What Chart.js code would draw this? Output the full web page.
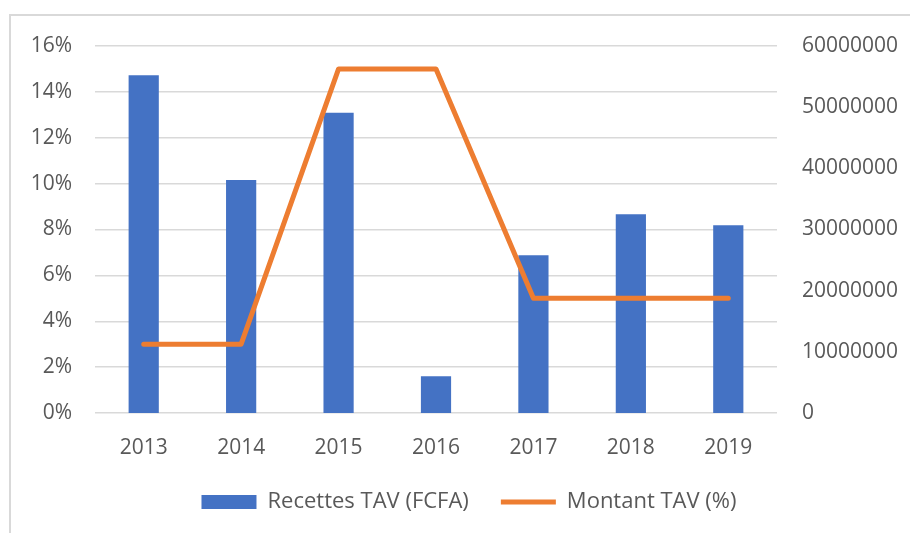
<!DOCTYPE html>
<html>
<head>
<meta charset="utf-8">
<script src="https://cdn.jsdelivr.net/npm/chart.js@4.4.1/dist/chart.umd.min.js"></script>
<style>
  body { margin: 0; background: #fff; overflow: hidden; }
  #frame { position: absolute; left: 9px; top: 14px; width: 940px; height: 560px;
           border-left: 2px solid #d9d9d9; border-top: 2px solid #d9d9d9; }
  #wrap { position: absolute; left: 0; top: 0; width: 910px; height: 533px; }
</style>
</head>
<body>
<div id="frame"></div>
<div id="wrap"><canvas id="chart"></canvas></div>
<script>
// values
const years = ['2013', '2014', '2015', '2016', '2017', '2018', '2019'];
const recettes = [55200000, 38100000, 49100000, 6000000, 25800000, 32500000, 30700000];
const montantPct = [0.03, 0.03, 0.15, 0.15, 0.05, 0.05, 0.05];
const pctTicks = [0, 0.02, 0.04, 0.06, 0.08, 0.1, 0.12, 0.14, 0.16];
const fcfaTicks = [0, 10000000, 20000000, 30000000, 40000000, 50000000, 60000000];

const textColor = '#595959';
const font = { family: "'Open Sans', sans-serif", size: 21 };

const ctx = document.getElementById('chart').getContext('2d');
new Chart(ctx, {
  data: {
    labels: years,
    datasets: [
      {
        type: 'bar',
        label: 'Recettes TAV (FCFA)',
        data: recettes,
        yAxisID: 'yRight',
        backgroundColor: '#4472C4',
        categoryPercentage: 1,
        barPercentage: 0.31,
        pointStyle: 'rect',
        order: 1
      },
      {
        type: 'line',
        label: 'Montant TAV (%)',
        data: montantPct,
        yAxisID: 'yLeft',
        borderColor: '#ED7D31',
        backgroundColor: '#ED7D31',
        borderWidth: 5,
        borderCapStyle: 'round',
        borderJoinStyle: 'round',
        pointRadius: 0,
        tension: 0,
        pointStyle: 'line',
        order: 0
      }
    ]
  },
  options: {
    responsive: true,
    maintainAspectRatio: false,
    animation: false,
    layout: { padding: { left: 28, top: 46, right: 0, bottom: 10 } },
    plugins: {
      tooltip: { enabled: false },
      legend: {
        position: 'bottom',
        labels: {
          usePointStyle: true,
          pointStyleWidth: 55,
          boxHeight: 14,
          padding: 32,
          color: textColor,
          font: { family: font.family, size: 22 },
          sort: (a, b) => a.datasetIndex - b.datasetIndex
        }
      }
    },
    scales: {
      x: {
        grid: { display: false },
        border: { display: false },
        ticks: { color: textColor, font: font, padding: 14 },
        afterFit: s => { s.height = 46; }
      },
      yLeft: {
        position: 'left',
        min: 0,
        max: 0.16,
        afterBuildTicks: s => { s.ticks = pctTicks.map(v => ({ value: v })); },
        grid: { color: '#d9d9d9', lineWidth: 1.5, drawTicks: false },
        border: { display: false },
        ticks: {
          color: textColor, font: font, padding: 23,
          callback: v => Math.round(v * 100) + '%'
        },
        afterFit: s => { s.width = 67; }
      },
      yRight: {
        position: 'right',
        min: 0,
        max: 60000000,
        afterBuildTicks: s => { s.ticks = fcfaTicks.map(v => ({ value: v })); },
        grid: { display: false, drawTicks: false },
        border: { display: false },
        ticks: { color: textColor, font: font, padding: 25, callback: v => String(v) },
        afterFit: s => { s.width = 133; }
      }
    }
  }
});
</script>
</body>
</html>
